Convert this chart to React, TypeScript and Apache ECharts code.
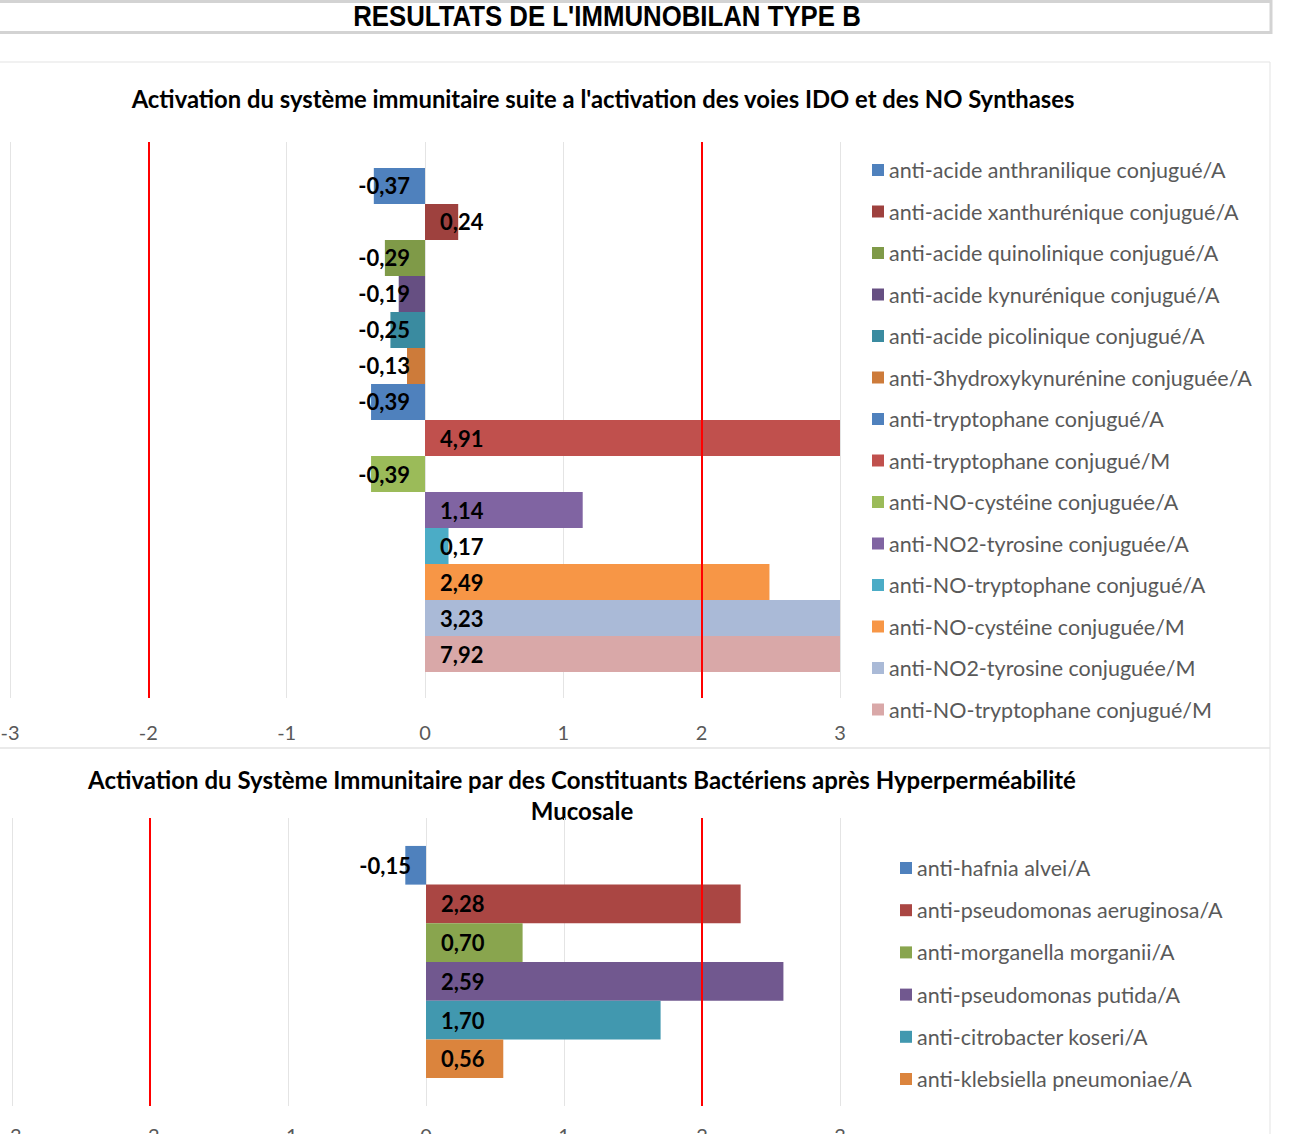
import React, { useEffect, useRef } from "react";
import * as echarts from "echarts";

const mainTitle = "RESULTATS DE L'IMMUNOBILAN TYPE B";
const chart1Title =
  "Activation du système immunitaire suite a l'activation des voies IDO et des NO Synthases";
const chart2TitleLine1 =
  "Activation du Système Immunitaire par des Constituants Bactériens après Hyperperméabilité";
const chart2TitleLine2 = "Mucosale";

const axisMin = -3;
const axisMax = 3;
const axisStep = 1;
const thresholds = [-2, 2];

const idoNames = [
  "anti-acide anthranilique conjugué/A",
  "anti-acide xanthurénique conjugué/A",
  "anti-acide quinolinique conjugué/A",
  "anti-acide kynurénique conjugué/A",
  "anti-acide picolinique conjugué/A",
  "anti-3hydroxykynurénine conjuguée/A",
  "anti-tryptophane conjugué/A",
  "anti-tryptophane conjugué/M",
  "anti-NO-cystéine conjuguée/A",
  "anti-NO2-tyrosine conjuguée/A",
  "anti-NO-tryptophane conjugué/A",
  "anti-NO-cystéine conjuguée/M",
  "anti-NO2-tyrosine conjuguée/M",
  "anti-NO-tryptophane conjugué/M",
];
const idoValues = [-0.37, 0.24, -0.29, -0.19, -0.25, -0.13, -0.39, 4.91, -0.39, 1.14, 0.17, 2.49, 3.23, 7.92];
const idoColors = [
  "#4F81BD", "#9E413E", "#7F9A48", "#664F82", "#3A8BA0", "#CD7B3A", "#4F81BD",
  "#C0504D", "#9BBB59", "#8064A2", "#4BACC6", "#F79646", "#AABAD7", "#D9A8A8",
];

const bactNames = [
  "anti-hafnia alvei/A",
  "anti-pseudomonas aeruginosa/A",
  "anti-morganella morganii/A",
  "anti-pseudomonas putida/A",
  "anti-citrobacter koseri/A",
  "anti-klebsiella pneumoniae/A",
];
const bactValues = [-0.15, 2.28, 0.7, 2.59, 1.7, 0.56];
const bactColors = ["#4F81BD", "#AA4643", "#89A54E", "#71588F", "#4198AF", "#DB843D"];

const FONT = "Lato, 'Noto Sans', sans-serif";

function fmt(v: number) {
  return v.toFixed(2).replace(".", ",");
}

function makeSeries(names: string[], values: number[], colors: string[], idx: number, gap: string) {
  return names.map((name, i) => {
    const v = values[i];
    const s: any = {
      type: "bar",
      name,
      xAxisIndex: idx,
      yAxisIndex: idx,
      data: [v],
      barGap: "0%",
      barCategoryGap: gap,
      clip: true,
      itemStyle: { color: colors[i] },
      label: {
        show: true,
        position: v < 0 ? "insideRight" : "insideLeft",
        distance: 15,
        formatter: () => fmt(v),
        color: "#000",
        fontWeight: "bold",
        fontSize: 22,
        fontFamily: FONT,
      },
    };
    if (i === 0) {
      s.markLine = {
        silent: true,
        symbol: "none",
        label: { show: false },
        lineStyle: { color: "#FF0000", width: 2, type: "solid" },
        data: thresholds.map((t) => ({ xAxis: t })),
      };
    }
    return s;
  });
}

function xAxisCfg(idx: number, margin: number) {
  return {
    type: "value",
    gridIndex: idx,
    min: axisMin,
    max: axisMax,
    interval: axisStep,
    axisLine: { show: false },
    axisTick: { show: false },
    axisLabel: { color: "#595959", fontSize: 20, fontFamily: FONT, margin },
    splitLine: { show: true, lineStyle: { color: "#E4E4E4", width: 1 } },
  };
}

function legendCfg(names: string[], left: number, top: number, gap: number) {
  return {
    data: names,
    orient: "vertical",
    left,
    top,
    itemWidth: 12,
    itemHeight: 12,
    itemGap: gap,
    icon: "rect",
    selectedMode: false,
    textStyle: { fontSize: 21.5, color: "#595959", fontFamily: FONT, lineHeight: 20 },
  };
}

function textEl(text: string, x: number, y: number, size: number) {
  return {
    type: "text",
    x,
    y,
    style: {
      text,
      fontFamily: FONT,
      fontWeight: "bold",
      fontSize: size,
      fill: "#000",
      textAlign: "center",
      textVerticalAlign: "middle",
    },
  };
}

export default function App() {
  const ref = useRef<HTMLDivElement>(null);
  useEffect(() => {
    if (!ref.current) return;
    const chart = echarts.init(ref.current, undefined, { renderer: "svg" });
    chart.setOption({
      animation: false,
      backgroundColor: "#FFFFFF",
      grid: [
        { left: 10, top: 142, width: 830, height: 556, outerBoundsMode: "none", containLabel: false },
        { left: 12, top: 818, width: 828, height: 288, outerBoundsMode: "none", containLabel: false },
      ],
      xAxis: [xAxisCfg(0, 24), xAxisCfg(1, 19)],
      yAxis: [
        { type: "category", gridIndex: 0, data: [""], show: false },
        { type: "category", gridIndex: 1, data: [""], show: false },
      ],
      legend: [legendCfg(idoNames, 867, 154, 19.5), legendCfg(bactNames, 895, 852, 20.2)],
      series: [
        ...makeSeries(idoNames, idoValues, idoColors, 0, "9.35%"),
        ...makeSeries(bactNames, bactValues, bactColors, 1, "19.4%"),
      ],
      graphic: [
        {
          type: "rect",
          z: -10,
          shape: { x: -4, y: 62, width: 1274, height: 686 },
          style: { fill: "none", stroke: "#E3E3E3", lineWidth: 1 },
        },
        {
          type: "rect",
          z: -10,
          shape: { x: -4, y: 748, width: 1274, height: 420 },
          style: { fill: "none", stroke: "#E3E3E3", lineWidth: 1 },
        },
        {
          type: "rect",
          shape: { x: -4, y: 1.5, width: 1275, height: 31 },
          style: { fill: "#FFFFFF", stroke: "#D3D3D3", lineWidth: 3 },
        },
        {
          type: "text",
          x: 607,
          y: 16,
          scaleX: 0.86,
          style: {
            text: mainTitle,
            fontFamily: "'Liberation Sans', Arial, sans-serif",
            fontWeight: "bold",
            fontSize: 30,
            fill: "#000",
            textAlign: "center",
            textVerticalAlign: "middle",
          },
        },
        textEl(chart1Title, 603, 99, 23.8),
        textEl(chart2TitleLine1, 582, 779, 24),
        textEl(chart2TitleLine2, 582, 810, 24),
      ],
    });
    return () => chart.dispose();
  }, []);
  return (
    <div
      ref={ref}
      style={{ position: "absolute", left: 0, top: 0, width: 1310, height: 1134, background: "#fff" }}
    />
  );
}
